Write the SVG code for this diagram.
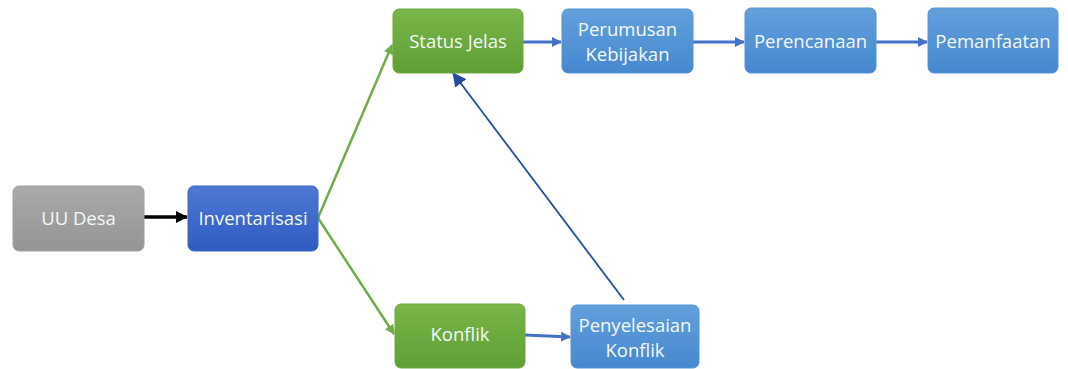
<svg xmlns="http://www.w3.org/2000/svg" width="1068" height="369" viewBox="0 0 1068 369">
<style>
.lbl{font-family:"Open Sans","Noto Sans","Liberation Sans",sans-serif;font-size:18.5px;fill:#f4f7fb;text-anchor:middle}
.box{stroke-width:1}
</style>
<defs>
<linearGradient id="gGray" x1="0" y1="0" x2="0" y2="1"><stop offset="0" stop-color="#aaaaaa"/><stop offset="1" stop-color="#949494"/></linearGradient>
<linearGradient id="gDark" x1="0" y1="0" x2="0" y2="1"><stop offset="0" stop-color="#4f78d3"/><stop offset="1" stop-color="#2f5cc2"/></linearGradient>
<linearGradient id="gGreen" x1="0" y1="0" x2="0" y2="1"><stop offset="0" stop-color="#7ab64a"/><stop offset="1" stop-color="#5e9f33"/></linearGradient>
<linearGradient id="gLight" x1="0" y1="0" x2="0" y2="1"><stop offset="0" stop-color="#62a0dc"/><stop offset="1" stop-color="#4688cf"/></linearGradient>
<marker id="aBlack" markerWidth="12" markerHeight="12" refX="11" refY="6" orient="auto" markerUnits="userSpaceOnUse" viewBox="0 0 12 12"><path d="M0,0 L12,6 L0,12 z" fill="#000"/></marker>
<marker id="aBlue" markerWidth="10" markerHeight="10" refX="9" refY="5" orient="auto" markerUnits="userSpaceOnUse" viewBox="0 0 10 10"><path d="M0,0 L10,5 L0,10 z" fill="#4472c4"/></marker>
<marker id="aGreen" markerWidth="10" markerHeight="10" refX="9" refY="5" orient="auto" markerUnits="userSpaceOnUse" viewBox="0 0 10 10"><path d="M0,0 L10,5 L0,10 z" fill="#70ad47"/></marker>
<marker id="aNavy" markerWidth="14" markerHeight="14" refX="13" refY="7" orient="auto" markerUnits="userSpaceOnUse" viewBox="0 0 14 14"><path d="M0,0 L14,7 L0,14 z" fill="#1f4ea3"/></marker>
</defs>
<g id="connectors">
<line x1="144" y1="217" x2="187" y2="217" stroke="#000" stroke-width="3.5" marker-end="url(#aBlack)"/>
<line x1="318" y1="218" x2="392" y2="45" stroke="#70ad47" stroke-width="2.5" marker-end="url(#aGreen)"/>
<line x1="318" y1="218" x2="394" y2="334" stroke="#70ad47" stroke-width="2.5" marker-end="url(#aGreen)"/>
<line x1="523" y1="42" x2="561" y2="42" stroke="#4472c4" stroke-width="3" marker-end="url(#aBlue)"/>
<line x1="693" y1="42" x2="744" y2="42" stroke="#4472c4" stroke-width="3" marker-end="url(#aBlue)"/>
<line x1="876" y1="42" x2="927" y2="42" stroke="#4472c4" stroke-width="3" marker-end="url(#aBlue)"/>
<line x1="525" y1="335" x2="570" y2="337" stroke="#4472c4" stroke-width="3" marker-end="url(#aBlue)"/>
<line x1="624" y1="300" x2="453" y2="73" stroke="#1f4ea3" stroke-width="1.8" marker-end="url(#aNavy)"/>
</g>
<g id="uu-desa"><rect class="box" x="13" y="186" width="131" height="65" rx="6" fill="url(#gGray)" stroke="#a0a0a0"/><text class="lbl" x="78.5" y="224.5">UU Desa</text></g>
<g id="inventarisasi"><rect class="box" x="188" y="186" width="130" height="65" rx="6" fill="url(#gDark)" stroke="#3a66c6"/><text class="lbl" x="253" y="224.5">Inventarisasi</text></g>
<g id="status-jelas"><rect class="box" x="393" y="9" width="130" height="64" rx="6" fill="url(#gGreen)" stroke="#6aa83f"/><text class="lbl" x="458" y="48">Status Jelas</text></g>
<g id="perumusan"><rect class="box" x="562" y="9" width="131" height="64" rx="6" fill="url(#gLight)" stroke="#5593d6"/><text class="lbl" x="627.5" y="35.5">Perumusan</text><text class="lbl" x="627.5" y="60.5">Kebijakan</text></g>
<g id="perencanaan"><rect class="box" x="745" y="8" width="131" height="65" rx="6" fill="url(#gLight)" stroke="#5593d6"/><text class="lbl" x="810.5" y="48">Perencanaan</text></g>
<g id="pemanfaatan"><rect class="box" x="928" y="8" width="130" height="65" rx="6" fill="url(#gLight)" stroke="#5593d6"/><text class="lbl" x="993" y="48">Pemanfaatan</text></g>
<g id="konflik"><rect class="box" x="395" y="304" width="130" height="64" rx="6" fill="url(#gGreen)" stroke="#6aa83f"/><text class="lbl" x="460" y="341">Konflik</text></g>
<g id="penyelesaian"><rect class="box" x="571" y="305" width="128" height="63" rx="6" fill="url(#gLight)" stroke="#5593d6"/><text class="lbl" x="635" y="331.5">Penyelesaian</text><text class="lbl" x="635" y="356.5">Konflik</text></g>
</svg>
